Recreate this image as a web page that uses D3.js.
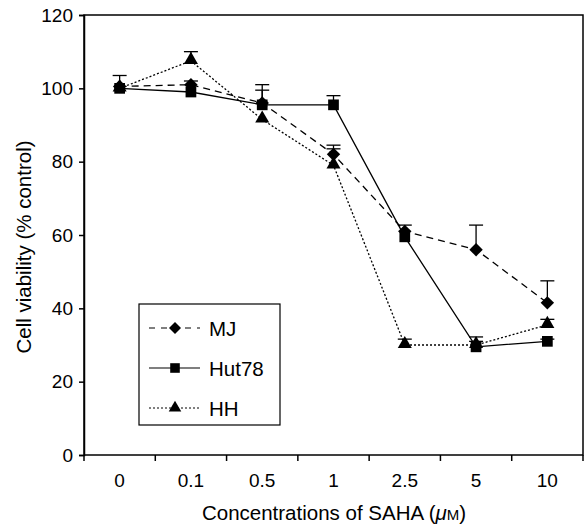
<!DOCTYPE html>
<html>
<head>
<meta charset="utf-8">
<script src="https://cdn.jsdelivr.net/npm/d3@7"></script>
<style>
  body { margin: 0; background: #fff; }
  text { font-family: "Liberation Sans", Arial, sans-serif; fill: #000; }
</style>
</head>
<body>
<div id="chart"></div>
<script>
var concentrations = ["0", "0.1", "0.5", "1", "2.5", "5", "10"];
var seriesNames = ["MJ", "Hut78", "HH"];
var mjValues = [100.5, 101, 96, 82, 61, 56, 41.5];
var mjErrors = [3, 1, 5, 2.5, 1.7, 6.7, 6];
var hutValues = [100, 99, 95.5, 95.5, 59.5, 29.5, 31];
var hutErrors = [0, 0, 4, 2.5, 0, 2.7, 0.6];
var hhValues = [100, 107.5, 91.5, 79, 30, 30, 35.5];
var hhErrors = [0, 2.5, 0, 4.5, 1.6, 1, 1.5];
var yTicks = [0, 20, 40, 60, 80, 100, 120];

var margin = {top: 15, right: 3, bottom: 70, left: 84};
var width = 586 - margin.left - margin.right;
var height = 525 - margin.top - margin.bottom;

var svg = d3.select("#chart").append("svg")
    .attr("width", 586)
    .attr("height", 525)
  .append("g")
    .attr("transform", "translate(" + margin.left + "," + margin.top + ")");

var xScale = d3.scaleBand().domain(concentrations).range([0, width]);
var yScale = d3.scaleLinear().domain([0, 120]).range([height, 0]);

// frame
svg.append("rect").attr("width", width).attr("height", height)
  .attr("fill", "none").attr("stroke", "#000").attr("stroke-width", 1.5);

// y axis
var yAxis = svg.append("g").call(d3.axisLeft(yScale).tickValues(yTicks).tickSize(5).tickPadding(6));
yAxis.select(".domain").attr("stroke-width", 1.5);
yAxis.selectAll("line").attr("stroke-width", 1.5);
yAxis.selectAll("text").style("font-size", "19px");

// x axis: ticks at category boundaries
var xg = svg.append("g").attr("transform", "translate(0," + height + ")");
xg.selectAll("line.tick").data(d3.range(concentrations.length + 1)).enter().append("line")
  .attr("x1", function(i){ return i * xScale.step(); })
  .attr("x2", function(i){ return i * xScale.step(); })
  .attr("y1", 0).attr("y2", 6).attr("stroke", "#000").attr("stroke-width", 1.5);
xg.selectAll("text").data(concentrations).enter().append("text")
  .attr("x", function(d){ return xScale(d) + xScale.bandwidth()/2; })
  .attr("y", 32).attr("text-anchor", "middle").style("font-size", "19px")
  .text(function(d){ return d; });

// axis titles
svg.append("text").attr("transform", "rotate(-90)")
  .attr("x", -(247 - margin.top)).attr("y", -53).attr("text-anchor", "middle")
  .style("font-size", "20.5px").text("Cell viability (% control)");

var xt = svg.append("text").attr("x", 334 - margin.left).attr("y", height + 65)
  .attr("text-anchor", "middle").style("font-size", "20.5px");
xt.append("tspan").text("Concentrations of SAHA (");
xt.append("tspan").style("font-style", "italic").text("μ");
xt.append("tspan").style("font-size", "15px").text("M");
xt.append("tspan").text(")");

// diamonds are squares turned 45 degrees
var series = [
  {name: seriesNames[0], values: mjValues, errors: mjErrors, dash: "7,5", shape: d3.symbolSquare, size: 90, rot: 45},
  {name: seriesNames[1], values: hutValues, errors: hutErrors, dash: null, shape: d3.symbolSquare, size: 115, rot: 0},
  {name: seriesNames[2], values: hhValues, errors: hhErrors, dash: "2,2", shape: d3.symbolTriangle, size: 85, rot: 0}
];

var cx = function(i){ return xScale(concentrations[i]) + xScale.bandwidth()/2; };

var line = d3.line()
  .x(function(d, i){ return cx(i); })
  .y(function(d){ return yScale(d); });

// error bars
series.forEach(function(s){
  s.values.forEach(function(v, i){
    if (!s.errors[i]) return;
    var x = cx(i), y0 = yScale(v), y1 = yScale(v + s.errors[i]);
    svg.append("line").attr("x1", x).attr("x2", x).attr("y1", y0).attr("y2", y1)
      .attr("stroke", "#000").attr("stroke-width", 1.3);
    svg.append("line").attr("x1", x - 7).attr("x2", x + 7).attr("y1", y1).attr("y2", y1)
      .attr("stroke", "#000").attr("stroke-width", 1.3);
  });
});

// lines
series.forEach(function(s){
  svg.append("path").attr("d", line(s.values))
    .attr("fill", "none").attr("stroke", "#000").attr("stroke-width", 1.3)
    .attr("stroke-dasharray", s.dash);
});

// markers
series.forEach(function(s){
  svg.selectAll(null).data(s.values).enter().append("path")
    .attr("d", d3.symbol().type(s.shape).size(s.size))
    .attr("transform", function(d, i){
      var dy = s.shape === d3.symbolTriangle ? -1 : 0;
      return "translate(" + cx(i) + "," + (yScale(d) + dy) + ") rotate(" + s.rot + ")";
    })
    .attr("fill", "#000");
});

// legend
var legend = svg.append("g").attr("transform", "translate(" + (139 - margin.left) + "," + (304 - margin.top) + ")");
legend.append("rect").attr("width", 141).attr("height", 121)
  .attr("fill", "#fff").attr("stroke", "#000").attr("stroke-width", 1.2);
series.forEach(function(s, i){
  var y = 24 + i * 40;
  legend.append("line").attr("x1", 10).attr("x2", 61).attr("y1", y).attr("y2", y)
    .attr("stroke", "#000").attr("stroke-width", s.dash === "2,2" ? 1 : 1.2)
    .attr("stroke-dasharray", s.dash === "7,5" ? "6,6" : s.dash);
  legend.append("path").attr("d", d3.symbol().type(s.shape).size(s.size * 0.8))
    .attr("transform", "translate(36," + y + ") rotate(" + s.rot + ")").attr("fill", "#000");
  legend.append("text").attr("x", 70).attr("y", y + 7.5).style("font-size", "20.5px").text(s.name);
});
</script>
</body>
</html>
